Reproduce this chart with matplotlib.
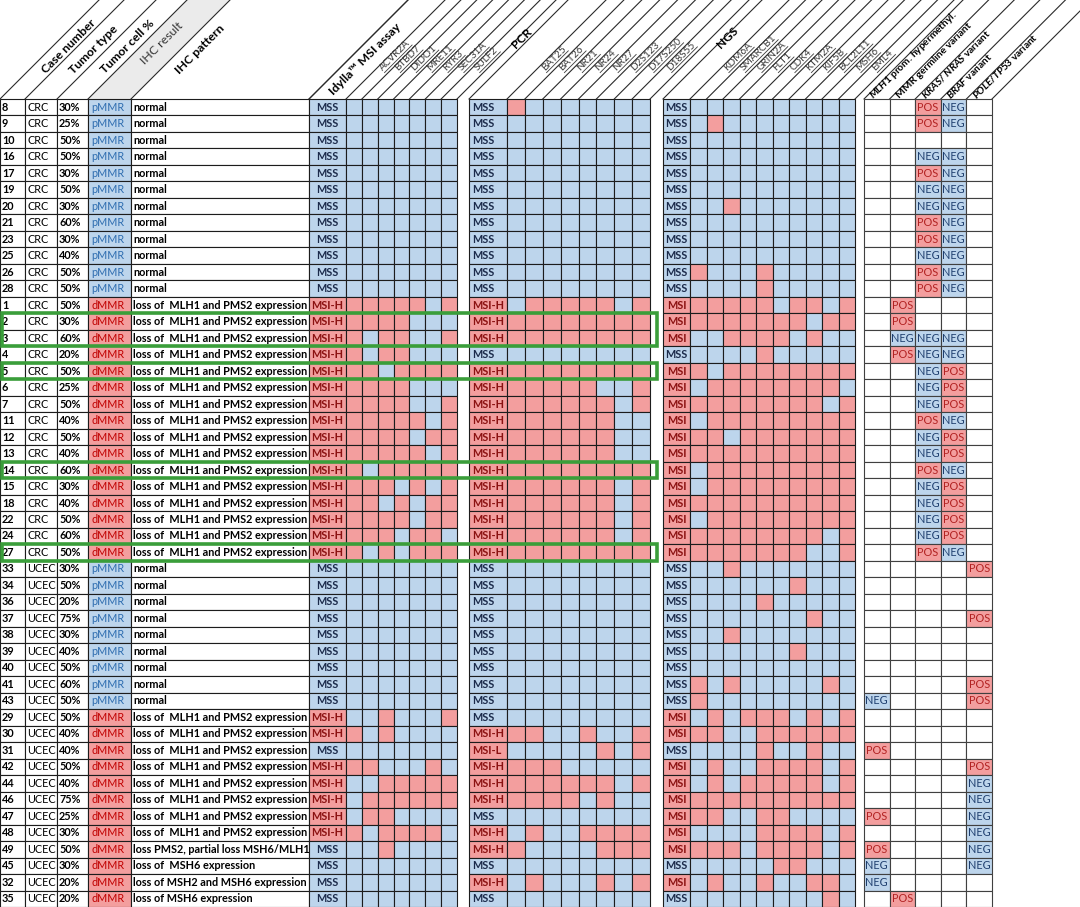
import matplotlib
matplotlib.use("Agg")
import matplotlib.pyplot as plt
from matplotlib.patches import Rectangle, Polygon

plt.rcParams['font.family'] = ['Lato', 'DejaVu Sans']
plt.rcParams['mathtext.fontset'] = 'custom'
plt.rcParams['mathtext.it'] = 'Lato:italic:bold'
plt.rcParams['mathtext.rm'] = 'Lato:bold'

# ---- data ----
case_ids = ["8", "9", "10", "16", "17", "19", "20", "21", "23", "25", "26", "28",
            "1", "2", "3", "4", "5", "6", "7", "11", "12", "13", "14", "15", "18", "22", "24", "27",
            "33", "34", "36", "37", "38", "39", "40", "41", "43",
            "29", "30", "31", "42", "44", "46", "47", "48", "49", "45", "32", "35"]
tumor_type = ["CRC"] * 28 + ["UCEC"] * 21
tumor_pct = ["30%", "25%", "50%", "50%", "30%", "50%", "30%", "60%", "30%", "40%", "50%", "50%",
             "50%", "30%", "60%", "20%", "50%", "25%", "50%", "40%", "50%", "40%", "60%", "30%", "40%", "50%", "60%", "50%",
             "30%", "50%", "20%", "75%", "30%", "40%", "50%", "60%", "50%",
             "50%", "40%", "40%", "50%", "40%", "75%", "25%", "30%", "50%", "30%", "20%", "20%"]
ihc_result = ["pMMR"] * 12 + ["dMMR"] * 16 + ["pMMR"] * 9 + ["dMMR"] * 12
mlh1_pms2 = "loss of  MLH1 and PMS2 expression"
ihc_pattern = (["normal"] * 12 + [mlh1_pms2] * 16 + ["normal"] * 9 + [mlh1_pms2] * 8 +
               ["loss PMS2, partial loss MSH6/MLH1", "loss of  MSH6 expression",
                "loss of MSH2 and MSH6 expression", "loss of MSH6 expression"])

idylla_genes = ["ACVR2A", "BTBD7", "DIDO1", "MRE11", "RYR3", "SEC31A", "SULF2"]
pcr_markers = ["BAT25", "BAT26", "NR21", "NR24", "NR27", "D2S123", "D17S250", "D18S55"]
ngs_genes = ["KDM6A", "SMARCB1", "GRIN2A", "FLT1", "CDK4", "KTM2A", "KIF5B", "BCL2L11", "MSH6", "EML4"]

idylla_call = (["MSS"] * 12 + ["MSI-H"] * 16 + ["MSS"] * 9 +
               ["MSI-H", "MSI-H", "MSS", "MSI-H", "MSI-H", "MSI-H", "MSI-H", "MSI-H", "MSS", "MSS", "MSS", "MSS"])
idylla_res = (["0000000"] * 12 +
              ["1111101", "1111000", "1011001", "1011000", "1101111", "1111000", "1111001", "1111101",
               "1111011", "1111101", "1011111", "1110101", "1101011", "1111011", "1110110", "1010111"] +
              ["0000000"] * 9 +
              ["0010001", "1010000", "0000000", "1100010", "0011111", "0111111", "0110000", "1011110",
               "0010000", "0000000", "0000000", "0000000"])

pcr_call = (["MSS"] * 12 + ["MSI-H", "MSI-H", "MSI-H", "MSS"] + ["MSI-H"] * 12 + ["MSS"] * 10 +
            ["MSI-H", "MSI-L", "MSI-H", "MSI-H", "MSI-H", "MSS", "MSI-H", "MSI-H", "MSS", "MSI-H", "MSS"])
pcr_res = (["10000000"] + ["00000000"] * 11 +
           ["01111101", "11111111", "11111111", "00000000", "11111111", "11111001", "11111101", "11111100",
            "11111100", "11111100", "11111111", "11111101", "11111101", "11111101", "11111101", "11111111"] +
           ["00000000"] * 10 +
           ["11001001", "00000101", "11100000", "11111101", "11110100", "00000000", "01001111", "10000111",
            "00000000", "01000101", "00000000"])

ngs_call = (["MSS"] * 12 + ["MSI", "MSI", "MSI", "MSS"] + ["MSI"] * 12 + ["MSS"] * 9 +
            ["MSI", "MSI", "MSS", "MSI", "MSI", "MSI", "MSI", "MSI", "MSI", "MSS", "MSI", "MSS"])
ngs_res = (["0000000000", "0100000000", "0000000000", "0000000000", "0000000000", "0000000000",
            "0010000000", "0000000000", "0000000000", "0000000000", "1000100000", "0000100000",
            "1111101101", "1111111011", "0011110100", "0000100000", "1011111111", "0111111110",
            "1111111101", "0111111111", "1101111111", "1111111111", "0111111111", "0111111111",
            "1111111111", "0111111111", "1111111101", "1111111001",
            "0010000000", "0000001000", "0000100000", "0000000100", "0010000000", "0000001000",
            "0000000000", "1010000010", "1000000000",
            "0101110101", "1100111111", "0000100100", "0100111101", "0101111101", "1111111111",
            "1100110000", "0000111101", "1110111101", "0000011000", "0100100110", "0000000010"])

# extra columns, '-' = empty
mlh1_meth = "- - - - - - - - - - - - - - - - - - - - - - - - - - - - - - - - - - - - NEG - - POS - - - POS - POS NEG NEG -"
mmr_germline = "- - - - - - - - - - - - POS POS NEG POS - - - - - - - - - - - - - - - - - - - - - - - - - - - - - - - - POS"
kras_nras = ("POS POS - NEG POS NEG NEG POS POS NEG POS POS - - NEG NEG NEG NEG NEG POS NEG NEG POS NEG NEG NEG NEG POS "
             "- - - - - - - - - - - - - - - - - - - - -")
braf = ("NEG NEG - NEG NEG NEG NEG NEG NEG NEG NEG NEG - - NEG NEG POS POS POS NEG POS POS NEG POS POS POS POS NEG "
        "- - - - - - - - - - - - - - - - - - - - -")
pole_tp53 = ("- - - - - - - - - - - - - - - - - - - - - - - - - - - - "
             "POS - - POS - - - POS POS - - - POS NEG NEG NEG NEG NEG NEG - -")
extra_cols = [mlh1_meth, mmr_germline, kras_nras, braf, pole_tp53]
extra_labels = [r"$\mathit{MLH1}$ prom. hypermethyl.", "MMR germline variant",
                r"$\mathit{KRAS/\ NRAS}$ variant", r"$\mathit{BRAF}$ variant", r"$\mathit{POLE/TP53}$ variant"]

highlight_cases = [["2", "3"], ["5"], ["14"], ["27"]]

# ---- layout / style ----
PINK = "#F39E9E"
BLUE = "#BDD5EC"
GRID = "#1c1c1c"
TOP = 99
H = 16.49
FS = 7.8
text_edges = [0, 25, 57, 88, 131, 309]
text_labels = ["Case number", "Tumor type", "Tumor cell %", "IHC result", "IHC pattern"]
blocks = [  # x start, status width, cell width, genes, calls, results, header, header x shift, header offset, centred?
    (309, 37, 15.86, idylla_genes, idylla_call, idylla_res, "Idylla\u2122 MSI assay", 16, 6, True),
    (469, 38, 17.875, pcr_markers, pcr_call, pcr_res, "PCR", -7, 52, False),
    (663, 27, 16.5, ngs_genes, ngs_call, ngs_res, "NGS", 4, 52, True),
]
EX_X0, EX_W = 864, 25.6

fig = plt.figure(figsize=(10.8, 9.07), dpi=100)
ax = fig.add_axes([0, 0, 1, 1])
ax.set_xlim(0, 1080)
ax.set_ylim(907, 0)
ax.axis("off")
n = len(case_ids)


def cell(x, y, w, fc):
    ax.add_patch(Rectangle((x, y), w, H, facecolor=fc, edgecolor=GRID, lw=0.8, zorder=2))


def diag(x):
    ax.plot([x, x + TOP], [TOP, 0], color="#2a2a2a", lw=0.8, zorder=1)


def head(x, d, s, size=8.8, weight="bold", color="black"):
    return ax.text(x + d, TOP - d, s, rotation=45, rotation_mode="anchor", ha="left", va="center",
                   fontsize=size, fontweight=weight, color=color, zorder=3)


# header shading for IHC result
ax.add_patch(Polygon([(88, TOP), (131, TOP), (131 + TOP, 0), (88 + TOP, 0)], closed=True,
                     facecolor="#EBEBEB", edgecolor="none", zorder=0))

# text columns
for i in range(n):
    y = TOP + i * H
    yc = y + H / 2
    for j in range(5):
        fc = "white"
        if j == 3:
            fc = BLUE if ihc_result[i] == "pMMR" else PINK
        cell(text_edges[j], y, text_edges[j + 1] - text_edges[j], fc)
    ax.text(2, yc, case_ids[i], fontsize=FS, fontweight="bold", va="center", zorder=3)
    ax.text(27, yc, tumor_type[i], fontsize=FS, va="center", zorder=3)
    ax.text(59, yc, tumor_pct[i], fontsize=FS, fontweight="bold", va="center", zorder=3)
    ax.text(91, yc, ihc_result[i], fontsize=FS, va="center", zorder=3,
            color="#2E6DB0" if ihc_result[i] == "pMMR" else "#C00000")
    ax.text(133, yc, ihc_pattern[i], fontsize=FS, fontweight="bold", va="center", zorder=3)

for e in text_edges:
    diag(e)
for j, lab in enumerate(text_labels):
    x0, x1 = text_edges[j], text_edges[j + 1]
    off = min((x1 - x0) / 2, 15)
    if lab == "IHC result":
        head(x0 + off + 4, 36, lab, weight="normal", color="#333333")
    else:
        head(x0 + off + 4, 27, lab)

# measurement for underlines
fig.canvas.draw()
renderer = fig.canvas.get_renderer()

# result blocks
for x0, sw, cw, genes, calls, res, title, hx, hoff, centred in blocks:
    for i in range(n):
        y = TOP + i * H
        yc = y + H / 2
        msi = calls[i] != "MSS"
        cell(x0, y, sw, PINK if msi else BLUE)
        if centred:
            ax.text(x0 + sw / 2, yc, calls[i], ha="center", va="center", fontsize=FS, fontweight="bold",
                    color="#8B1111" if msi else "#1B2A4A", zorder=3)
        else:
            ax.text(x0 + 3, yc, calls[i], ha="left", va="center", fontsize=FS, fontweight="bold",
                    color="#8B1111" if msi else "#1B2A4A", zorder=3)
        for k, v in enumerate(res[i]):
            cell(x0 + sw + k * cw, y, cw, PINK if v == "1" else BLUE)
    edges = [x0, x0 + sw] + [x0 + sw + (k + 1) * cw for k in range(len(genes))]
    for e in edges:
        diag(e)
    head(x0 + hx, hoff, title)
    for k, g in enumerate(genes):
        xs = x0 + sw + k * cw + cw / 2 - 3
        d = 30
        t = head(xs, d, g, size=7.2, weight="normal", color="#3a3a3a")
        w, hh, desc = renderer.get_text_width_height_descent(g, t.get_fontproperties(), ismath=False)
        # underline along the rotated baseline
        bx, by = xs + d + 3.6, TOP - d + 3.6
        ax.plot([bx, bx + w * 0.7071], [by, by - w * 0.7071], color="#3a3a3a", lw=0.6, zorder=3)

# extra columns
for c, col in enumerate(extra_cols):
    vals = col.split()
    x = EX_X0 + c * EX_W
    for i, v in enumerate(vals):
        y = TOP + i * H
        fc = "white"
        if v == "POS":
            fc = PINK
        elif v == "NEG":
            fc = BLUE
        ax.add_patch(Rectangle((x, y), EX_W, H, facecolor=fc, edgecolor="#404040", lw=0.8, zorder=2))
        if v != "-":
            ax.text(x + EX_W / 2, y + H / 2, v, ha="center", va="center", fontsize=FS,
                    color="#B22222" if v == "POS" else "#1F3F6F", zorder=3)
for c in range(6):
    diag(EX_X0 + c * EX_W)
for c, lab in enumerate(extra_labels):
    head(EX_X0 + c * EX_W + EX_W / 2 - 7, 2, lab, size=7.3)

# green highlight boxes
for grp in highlight_cases:
    rows = [case_ids.index(cid) for cid in grp]
    r0, r1 = min(rows), max(rows)
    ax.add_patch(Rectangle((1.5, TOP + r0 * H), 655, (r1 - r0 + 1) * H, facecolor="none",
                           edgecolor="#3A9E3A", lw=2.6, zorder=5))

fig.savefig("out.png", dpi=100)
